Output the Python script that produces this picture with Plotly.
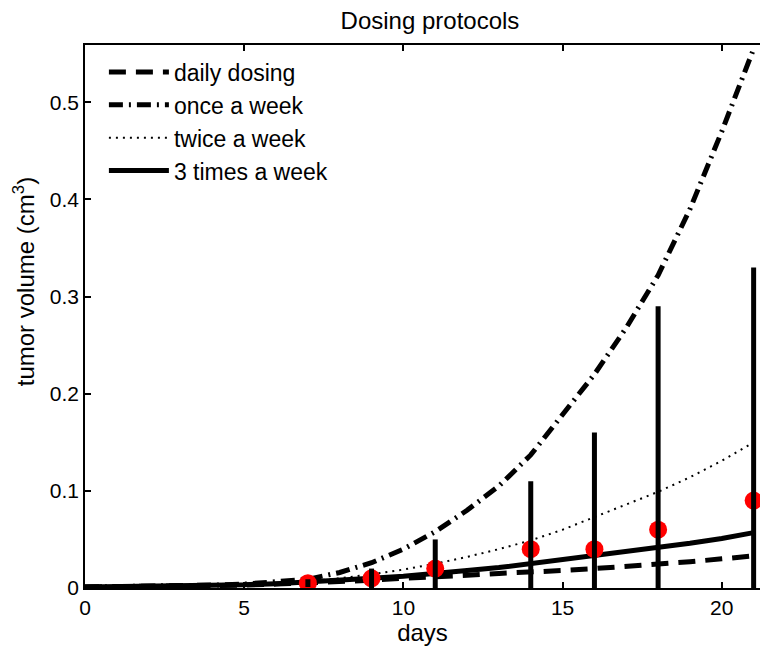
import plotly.graph_objects as go

days = list(range(0, 22))
daily_dosing = [0.001, 0.0012, 0.0015, 0.002, 0.0025, 0.003, 0.004, 0.005, 0.007, 0.008, 0.010,
                0.011, 0.013, 0.015, 0.016, 0.018, 0.020, 0.022, 0.025, 0.027, 0.030, 0.033]
once_a_week = [0.001, 0.0012, 0.0015, 0.002, 0.003, 0.004, 0.006, 0.009, 0.016, 0.026, 0.040,
               0.058, 0.080, 0.105, 0.137, 0.178, 0.220, 0.268, 0.322, 0.390, 0.470, 0.555]
twice_a_week = [0.001, 0.0012, 0.0015, 0.002, 0.0027, 0.0036, 0.005, 0.007, 0.010, 0.014, 0.019,
                0.025, 0.032, 0.040, 0.049, 0.060, 0.073, 0.086, 0.099, 0.114, 0.131, 0.150]
three_times_a_week = [0.001, 0.0012, 0.0015, 0.002, 0.0026, 0.0033, 0.0045, 0.006, 0.008, 0.010, 0.012,
                      0.0155, 0.018, 0.021, 0.025, 0.029, 0.033, 0.037, 0.041, 0.046, 0.051, 0.057]

obs_days = [7, 9, 11, 14, 16, 18, 21]
obs_mean = [0.005, 0.010, 0.020, 0.040, 0.040, 0.060, 0.090]
obs_upper = [0.009, 0.020, 0.050, 0.110, 0.160, 0.290, 0.330]
obs_err = [u - m for u, m in zip(obs_upper, obs_mean)]

x_ticks = [0, 5, 10, 15, 20]
y_ticks = [0, 0.1, 0.2, 0.3, 0.4, 0.5]
y_tick_labels = ["0", "0.1", "0.2", "0.3", "0.4", "0.5"]

FONT = "Liberation Sans, Arial, sans-serif"

fig = go.Figure()
fig.add_trace(go.Scatter(x=days, y=daily_dosing, mode="lines", name="daily dosing",
                         line=dict(color="black", width=5, dash="17px,10px")))
fig.add_trace(go.Scatter(x=days, y=once_a_week, mode="lines", name="once a week",
                         line=dict(color="black", width=5, dash="14px,6px,2px,6px")))
fig.add_trace(go.Scatter(x=days, y=twice_a_week, mode="lines", name="twice a week",
                         line=dict(color="black", width=2, dash="2px,5px")))
fig.add_trace(go.Scatter(x=days, y=three_times_a_week, mode="lines", name="3 times a week",
                         line=dict(color="black", width=5)))
fig.add_trace(go.Scatter(x=obs_days, y=obs_mean, mode="markers", showlegend=False,
                         marker=dict(color="#ff0000", size=18, line=dict(width=0))))
fig.add_trace(go.Scatter(x=obs_days, y=obs_mean, mode="markers", showlegend=False,
                         marker=dict(color="rgba(0,0,0,0)", size=1),
                         error_y=dict(type="data", array=obs_err, symmetric=True,
                                      color="black", thickness=5, width=0)))

fig.update_layout(
    width=760, height=654,
    margin=dict(l=85, r=0, t=45, b=66),
    paper_bgcolor="white", plot_bgcolor="white",
    font=dict(family=FONT, size=21, color="black"),
    showlegend=True,
    title=dict(text="Dosing protocols", x=430 / 760, xanchor="center", y=1 - 21 / 654,
               yanchor="middle", font=dict(size=24, family=FONT)),
    legend=dict(x=0.028, y=0.99, xanchor="left", yanchor="top",
                bgcolor="rgba(0,0,0,0)", borderwidth=0,
                font=dict(size=23, family=FONT), itemwidth=60, tracegroupgap=0),
    xaxis=dict(range=[0, 21.2], tickvals=x_ticks, ticks="inside", ticklen=6,
               tickwidth=1.5, tickcolor="black", showline=True, linecolor="black", linewidth=1.5,
               mirror="ticks", showgrid=False, zeroline=False,
               tickfont=dict(size=21, family=FONT),
               title=dict(text="days", font=dict(size=24, family=FONT), standoff=2)),
    yaxis=dict(range=[0, 0.559], tickvals=y_ticks, ticktext=y_tick_labels,
               ticks="inside", ticklen=6, tickwidth=1.5, tickcolor="black",
               showline=True, linecolor="black", linewidth=1.5, mirror=False,
               showgrid=False, zeroline=False, tickfont=dict(size=21, family=FONT)),
)
fig.add_annotation(text="tumor volume (cm<sup>3</sup>)", textangle=-90,
                   x=-0.09, y=(588 - 282) / 543, xref="paper", yref="paper",
                   xanchor="center", yanchor="middle", showarrow=False,
                   font=dict(size=24, family=FONT))

fig.write_html("out.html")
